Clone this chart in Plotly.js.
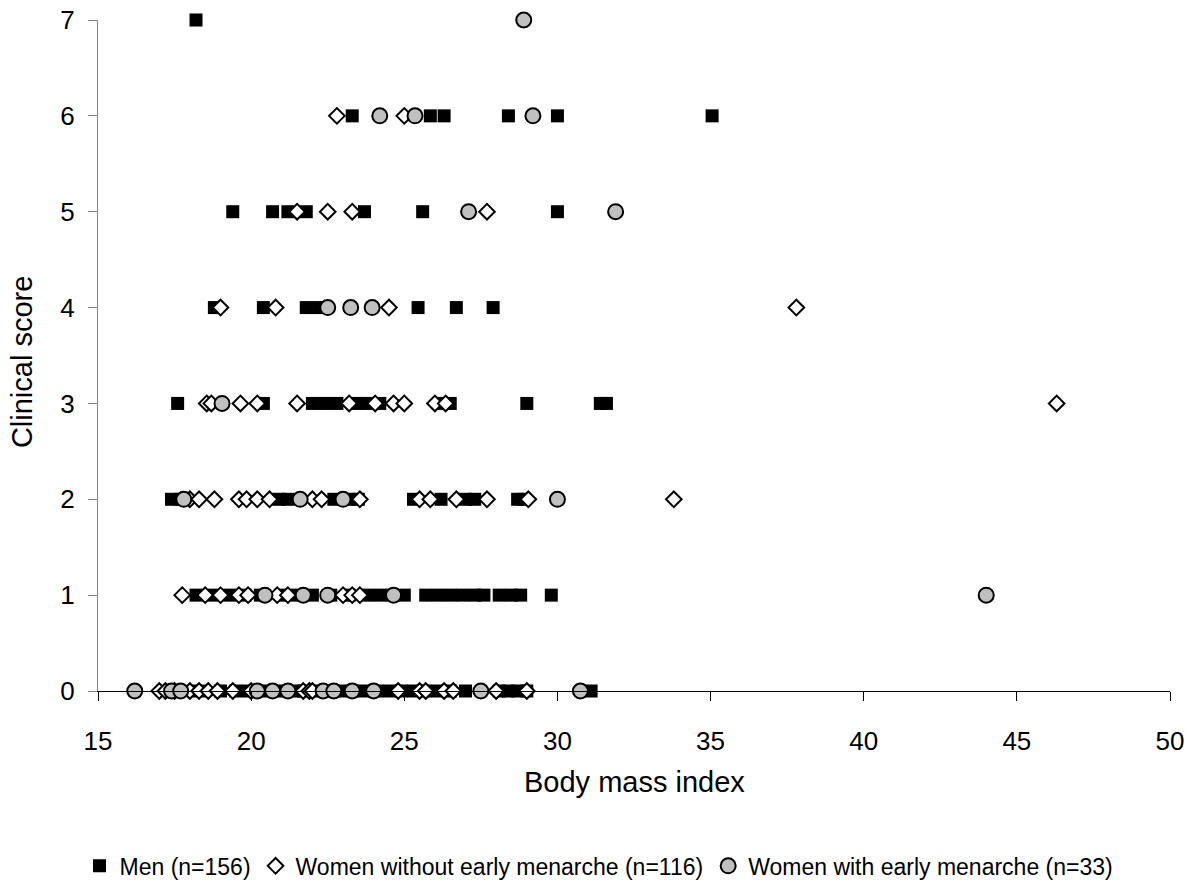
<!DOCTYPE html>
<html>
<head>
<meta charset="utf-8">
<script src="https://cdn.plot.ly/plotly-3.0.1.min.js"></script>
<style>html,body{margin:0;padding:0;background:#fff}</style>
</head>
<body>
<div id="chart" style="width:1198px;height:889px"></div>
<script>
// Men: BMI and clinical score
const menBMI = [
  18.3, 19.0, 19.5, 19.9, 20.4, 20.9, 21.4, 21.7, 22.1, 22.5, 22.9, 23.3, 23.7, 24.1, 24.5, 24.9, 25.3, 25.7, 26.1, 26.5, 27.0, 28.1, 28.4, 28.7, 29.0, 31.1,
  18.2, 18.8, 19.3, 19.8, 20.3, 21.0, 21.5, 22.0, 22.6, 23.2, 23.8, 24.2, 24.6, 25.0, 25.7, 26.1, 26.5, 26.9, 27.3, 27.6, 28.1, 28.5, 28.8, 29.8,
  17.4, 17.7, 20.9, 21.2, 22.7, 23.2, 23.5, 25.3, 26.2, 27.0, 27.3, 28.7, 28.9,
  17.6, 20.4, 22.0, 22.4, 22.8, 23.5, 23.8, 24.2, 26.2, 26.5, 29.0, 31.4, 31.6,
  18.8, 20.4, 21.8, 22.2, 25.45, 26.7, 27.9,
  19.4, 20.7, 21.2, 21.8, 23.7, 25.6, 30.0,
  23.3, 25.85, 26.3, 28.4, 30.0, 35.05,
  18.2
];
const menScore = [
  0,0,0,0,0,0,0,0,0,0,0,0,0,0,0,0,0,0,0,0,0,0,0,0,0,0,
  1,1,1,1,1,1,1,1,1,1,1,1,1,1,1,1,1,1,1,1,1,1,1,1,
  2,2,2,2,2,2,2,2,2,2,2,2,2,
  3,3,3,3,3,3,3,3,3,3,3,3,3,
  4,4,4,4,4,4,4,
  5,5,5,5,5,5,5,
  6,6,6,6,6,6,
  7
];
// Women without early menarche
const womenNoBMI = [
  17.0, 17.2, 17.5, 18.0, 18.3, 18.6, 18.9, 19.4, 20.0, 21.7, 21.9, 22.0, 24.8, 25.5, 25.7, 26.3, 26.6, 28.0, 29.0,
  17.75, 18.5, 19.0, 19.6, 19.9, 20.85, 21.2, 23.0, 23.3, 23.55,
  18.0, 18.3, 18.8, 19.6, 19.85, 20.2, 20.6, 22.0, 22.3, 23.55, 25.5, 25.85, 26.7, 27.7, 29.05, 33.8,
  18.55, 18.7, 19.65, 20.2, 21.5, 23.2, 24.05, 24.65, 25.0, 26.0, 26.35, 46.3,
  19.0, 20.8, 24.5, 37.8,
  21.5, 22.5, 23.3, 27.7,
  22.8, 25.0
];
const womenNoScore = [
  0,0,0,0,0,0,0,0,0,0,0,0,0,0,0,0,0,0,0,
  1,1,1,1,1,1,1,1,1,1,
  2,2,2,2,2,2,2,2,2,2,2,2,2,2,2,2,
  3,3,3,3,3,3,3,3,3,3,3,3,
  4,4,4,4,
  5,5,5,5,
  6,6
];
// Women with early menarche
const womenEarlyBMI = [
  16.2, 17.4, 17.7, 20.2, 20.7, 21.2, 22.35, 22.7, 23.3, 24.0, 27.5, 30.75,
  20.45, 21.7, 22.5, 24.65, 44.0,
  17.8, 21.6, 23.0, 30.0,
  19.05,
  22.5, 23.25, 23.95,
  27.1, 31.9,
  24.2, 25.35, 29.2,
  28.9
];
const womenEarlyScore = [
  0,0,0,0,0,0,0,0,0,0,0,0,
  1,1,1,1,1,
  2,2,2,2,
  3,
  4,4,4,
  5,5,
  6,6,6,
  7
];
const seriesNames = ['Men (n=156)', 'Women without early menarche (n=116)', 'Women with early menarche (n=33)'];
const xTicks = [15, 20, 25, 30, 35, 40, 45, 50];
const yTicks = [0, 1, 2, 3, 4, 5, 6, 7];
const xTitle = 'Body mass index';
const yTitle = 'Clinical score';

const traces = [
  {x: menBMI, y: menScore, name: seriesNames[0], type: 'scatter', mode: 'markers', cliponaxis: false,
   marker: {symbol: 'square', size: 13, color: '#000000', line: {width: 0}}},
  {x: womenNoBMI, y: womenNoScore, name: seriesNames[1], type: 'scatter', mode: 'markers', cliponaxis: false,
   marker: {symbol: 'diamond', size: 12, color: '#ffffff', line: {width: 2, color: '#000000'}}},
  {x: womenEarlyBMI, y: womenEarlyScore, name: seriesNames[2], type: 'scatter', mode: 'markers', cliponaxis: false,
   marker: {symbol: 'circle', size: 15, color: '#c0c0c0', line: {width: 2, color: '#000000'}}}
];

const layout = {
  width: 1198, height: 889,
  margin: {l: 98, r: 28, t: 20, b: 198, autoexpand: false},
  paper_bgcolor: '#ffffff', plot_bgcolor: '#ffffff',
  font: {family: 'Arial, "Liberation Sans", sans-serif', color: '#000000', size: 22},
  showlegend: true,
  legend: {orientation: 'h', xref: 'container', yref: 'container', x: 0.5, xanchor: 'center', y: 0.026, yanchor: 'middle',
           font: {size: 23}, itemwidth: 30, tracegroupgap: 0},
  xaxis: {range: [15, 50], tickvals: xTicks, ticktext: xTicks.map(String), showgrid: false, zeroline: false,
          automargin: false, ticklabelstandoff: 18,
          showline: true, linecolor: '#000000', linewidth: 1, ticks: 'outside', ticklen: 9, tickcolor: '#000000',
          tickfont: {size: 26}},
  yaxis: {range: [0, 7], tickvals: yTicks, ticktext: yTicks.map(String), showgrid: false, zeroline: false,
          automargin: false, ticklabelstandoff: 8,
          showline: true, linecolor: '#868686', linewidth: 1, ticks: 'outside', ticklen: 9, tickcolor: '#868686',
          tickfont: {size: 26}},
  annotations: [
    {text: xTitle, xref: 'paper', yref: 'paper', x: 0.5, y: -0.135, xanchor: 'center', yanchor: 'middle',
     showarrow: false, font: {size: 29}},
    {text: yTitle, xref: 'paper', yref: 'paper', x: -0.071, y: 0.49, xanchor: 'center', yanchor: 'middle',
     textangle: -90, showarrow: false, font: {size: 29}}
  ]
};
Plotly.newPlot('chart', traces, layout, {displayModeBar: false, staticPlot: true});
</script>
</body>
</html>
